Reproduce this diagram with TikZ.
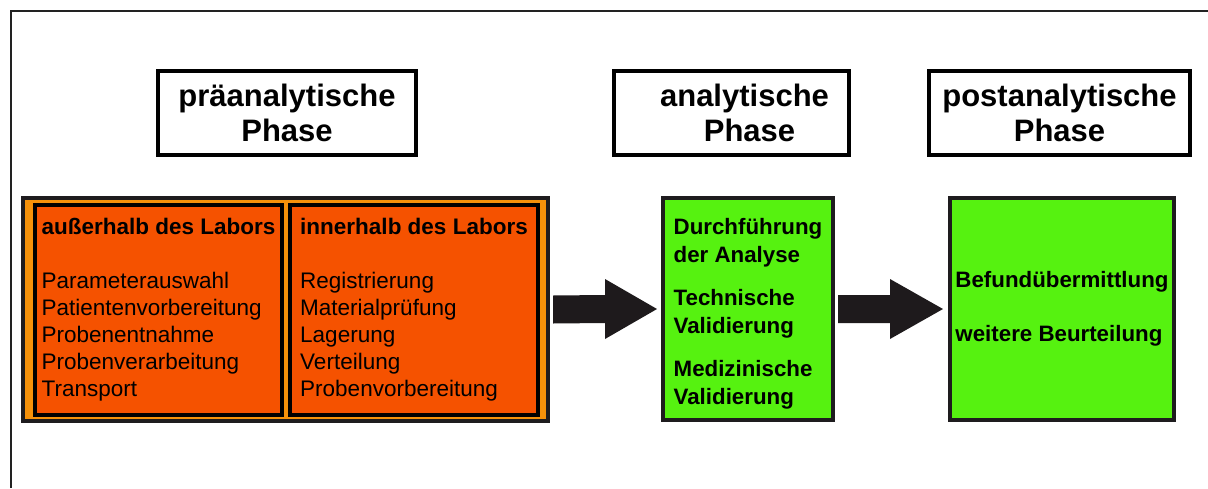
\documentclass[tikz,border=0pt]{standalone}
\usepackage{fontspec}
\setmainfont{Liberation Sans}
\usetikzlibrary{calc}
\definecolor{framecol}{RGB}{34,34,34}
\definecolor{darkbord}{RGB}{30,28,30}
\definecolor{stripcol}{RGB}{245,145,10}
\definecolor{redorange}{RGB}{245,82,0}
\definecolor{brightgreen}{RGB}{86,242,16}
\definecolor{arrowcol}{RGB}{30,26,28}
\tikzset{
  header/.style={draw=black, line width=4pt, fill=white, inner sep=0pt, align=center,
    minimum height=84pt, font=\fontsize{31}{35}\selectfont\bfseries},
  outerbox/.style={draw=darkbord, line width=4pt, fill=stripcol, inner sep=0pt},
  innerbox/.style={draw=black, line width=4pt, fill=redorange, inner sep=0pt, align=left,
    minimum height=210pt, font=\fontsize{22.5}{27}\selectfont},
  greenbox/.style={draw=darkbord, line width=4pt, fill=brightgreen, inner sep=0pt, align=left,
    minimum height=222pt, font=\fontsize{22.3}{28}\selectfont\bfseries},
  blockarrow/.style={fill=arrowcol}
}
\begin{document}
\begin{tikzpicture}[x=1pt,y=-1pt]
\useasboundingbox (0,0) rectangle (1208,488);
\fill[white] (0,0) rectangle (1208,488);
\draw[framecol, line width=2pt] (11,488) -- (11,11) -- (1208,11);

\node[header, minimum width=258pt] (h1) at (287,113) {präanalytische\\Phase};
\node[header, minimum width=235pt] (h2) at (731.5,113) {\hspace*{26pt}analytische\\\hspace*{36pt}Phase};
\node[header, minimum width=261pt] (h3) at (1059.5,113) {postanalytische\\Phase};

\node[outerbox, minimum width=525pt, minimum height=223pt] (pre) at (285.5,309.5) {};
\node[innerbox, minimum width=247pt] (out) at (158.5,310)
  {\textbf{außerhalb des Labors}\\[27pt]Parameterauswahl\\Patientenvorbereitung\\Probenentnahme\\Probenverarbeitung\\Transport};
\node[innerbox, minimum width=248pt] (inn) at (414,310)
  {\textbf{innerhalb des Labors}\\[27pt]Registrierung\\Materialprüfung\\Lagerung\\Verteilung\\Probenvorbereitung};

\node[greenbox, minimum width=170pt] (ana) at (748,309)
  {\rule{0pt}{25pt}Durchführung\\der Analyse\\[15pt]Technische\\Validierung\\[15pt]Medizinische\\Validierung};
\node[greenbox, minimum width=224pt] (post) at (1062,309)
  {Befundübermittlung\\[26pt]weitere Beurteilung};

\fill[blockarrow] ($(pre.east)+(3,-14)$) -- ($(ana.west)+(-56,-14)$) -- ($(ana.west)+(-56,-30)$)
  -- ($(ana.west)+(-4,0)$) -- ($(ana.west)+(-56,30)$) -- ($(ana.west)+(-56,14)$)
  -- ($(pre.east)+(3,14)$) -- cycle;
\fill[blockarrow] ($(ana.east)+(3,-14)$) -- ($(post.west)+(-58,-14)$) -- ($(post.west)+(-58,-30)$)
  -- ($(post.west)+(-5,0)$) -- ($(post.west)+(-58,30)$) -- ($(post.west)+(-58,14)$)
  -- ($(ana.east)+(3,14)$) -- cycle;
\end{tikzpicture}
\end{document}
